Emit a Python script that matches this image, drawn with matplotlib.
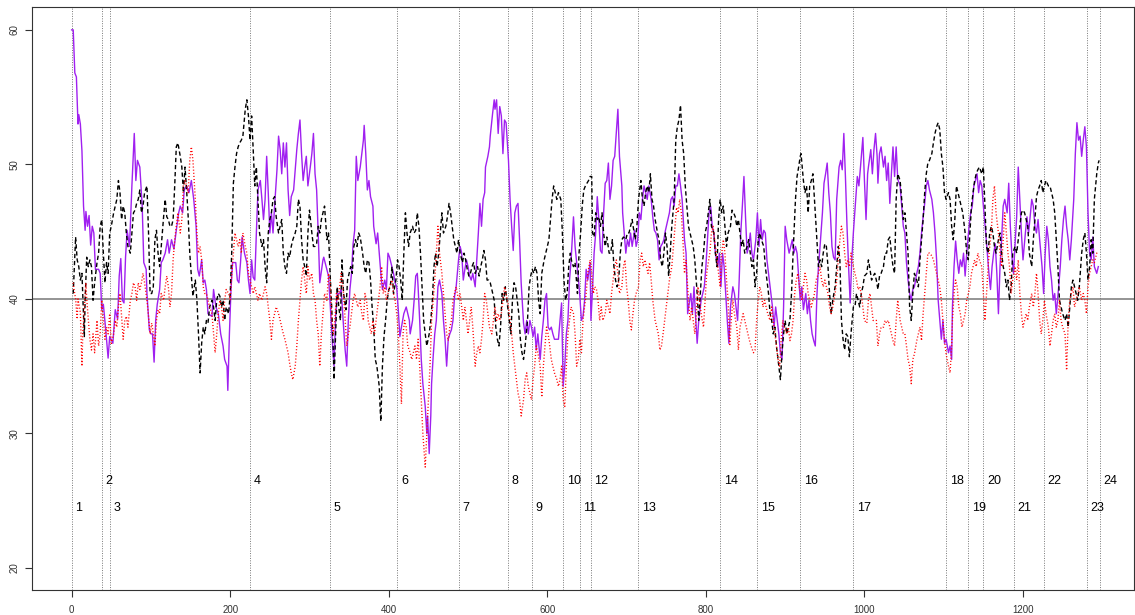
import matplotlib
matplotlib.use('Agg')
import matplotlib.pyplot as plt

# solid purple series (x, value)
purple_pts = [
    (0,60),(2,60),(4,56.8),(6,56.5),(8,53),(9,53.7),(11,53),(13,51),(15,46.9),(17,45.1),(18,46.5),
    (20,45.4),(22,46.2),(24,44),(26,45.4),(28,44.9),(30,42.2),(34,42.2),(36,41.9),(38,39.2),(40,39.6),
    (43,37.7),(46,35.6),(48,37.2),(52,36.7),(55,39.2),(58,38.5),(60,41.7),(62,43),(64,39.9),(66,39.7),
    (68,43.1),(70,45.1),(73,43.9),(76,48.4),(79,52.3),(81,48.8),(83,50.3),(86,49.8),(89,46.9),(91,42.7),
    (94,42.2),(95,40.4),(98,37.7),(100,37.4),(102,37.4),(104,35.3),(106,38.4),(108,39.6),(111,40.7),
    (113,42.7),(115,42.9),(118,43.4),(121,44.4),(123,43.4),(126,44.4),(129,43.7),(132,45.1),(135,46.4),
    (137,46.9),(140,46.4),(142,48.1),(145,48.4),(148,47.9),(151,48.8),(154,47.4),(157,45.4),(159,42.2),
    (161,41.7),(164,42.9),(166,41.2),(168,41.4),(170,40.7),(172,38.9),(177,38.7),(179,40.7),(182,39.4),
    (185,38.9),(188,37.4),(191,36.5),(193,35.5),(196,35),(197,33.2),(199,37.4),(201,40.7),(203,42.7),
    (207,42.7),(209,41.4),(211,41.2),(213,42.7),(215,44.6),(218,43.4),(221,42.7),(223,41.4),(225,40.4),
    (227,42.9),(229,41.6),(231,41.4),(233,44.9),(235,48.1),(238,48.8),(240,47.4),(242,45.9),(244,47.4),
    (246,50.6),(248,47.9),(250,44.9),(252,46.4),(254,44.9),(256,46.9),(259,49.6),(261,52.1),(263,51.1),
    (265,49.3),(267,51.6),(269,49.8),(271,51.6),(273,48.1),(275,46.2),(277,47.6),(280,48.1),(282,49.6),
    (284,51.1),(286,52.3),(288,53.3),(290,50.8),(292,48.8),(294,49.8),(296,50.6),(298,48.4),(301,49.8),
    (303,50.8),(305,52.3),(307,49.3),(309,48.1),(311,44.9),(313,41.2),
    (317,42.9),(318,43.1),(321,42.4),(324,41.7),(327,38.7),(329,36.7),(331,35),(333,38.7),(335,40.4),
    (338,40.4),(340,40.7),(343,37.9),(345,36.2),(347,35),(349,38.4),(351,40.7),(353,41.9),(355,44.1),
    (357,45.1),(359,50.6),(361,48.8),(364,49.8),(366,50.8),(368,51.8),(369,52.9),(371,50.8),(373,48.1),
    (375,48.8),(377,47.6),(380,46.9),(381,45.4),(384,44.1),(386,44.9),(388,43.4),(390,41.9),(392,40.7),
    (395,41.4),(397,40.7),(399,43.4),(401,43.1),(404,42.4),(406,41.9),(408,41.2),(410,40.9),(412,39.2),
    (414,37.2),(416,37.9),(419,38.9),(422,39.4),(424,38.9),(426,38.4),(427,37.4),(430,38.4),(432,39.9),
    (434,41.7),(436,41.9),(437,40.9),(439,38.4),(441,35.5),(443,33.7),(446,32),(448,30),(449,31.3),
    (451,28.5),(453,31.3),(454,33.7),(456,35.7),(458,37.4),(460,38.4),(462,40.9),(464,41.4),(467,40.4),
    (469,38.4),(471,37),(473,35),(475,37),(477,37.4),(479,37.7),(481,38.4),(483,40.2),(485,40.9),
    (488,42.9),(490,43.9),(492,43.4),(494,41.4),(496,42.2),(498,42.9),(500,42.4),(502,41.7),(504,41.4),
    (506,41.9),(509,40.9),(511,42.9),(513,44.9),(515,47.1),(517,45.4),(519,47.4),(521,47.9),(522,49.8),
    (525,50.6),(527,51.3),(528,52.1),(531,53.8),(533,54.8),(534,54.1),(536,54.8),(538,52.3),(540,54.3),
    (542,53.6),(544,50.8),(546,53.3),(548,53.1),(551,50.3),(553,47.4),(555,45.4),(557,43.6),(559,46.4),
    (561,46.9),(563,47.1),(565,44.4),(567,41.2),(570,38.2),(572,37.4),(574,38.4),(576,37.4),(578,38.4),
    (580,37.9),(582,37.2),(584,37.9),(586,36.2),(588,37.4),(591,35.5),(593,37.2),(595,38.4),(597,39.9),
    (599,40.4),(601,37.9),(603,37.7),(605,37.9),(607,37.4),(609,37),(612,37),(614,37),(616,38.4),
    (618,39.7),(620,33.5),(622,35),(624,37.4),(626,38.4),(628,41.4),(630,42.9),(633,46.1),(635,43.9),
    (637,42.7),(639,41.7),(641,40.2),(643,38.4),(645,38.7),(647,39.9),(649,42.2),(651,41.4),(654,42.7),
    (655,38.4),(657,40.7),(659,43.4),(661,44.9),(663,47.6),(665,45.9),(667,43.6),(669,43.4),(671,46.4),
    (673,48.6),(675,48.8),(677,50.1),(679,47.4),(681,48.4),(683,50.3),(685,50.6),(687,52.3),(689,54.1),
    (691,50.6),(694,48.4),(695,46.4),(697,44.9),(699,43.4),(701,44.4),(703,43.9),(705,44.9),(707,43.9),
    (710,45.1),(712,43.9),(714,44.4),(716,46.4),(718,45.9),(720,47.4),(722,48.4),(724,47.9),(726,47.4),
    (728,48.4),(731,47.4),(733,46.1),(735,45.1),(737,44.9),(739,44.4),(741,42.9),(743,43.9),(745,44.1),
    (747,44.4),(749,45.1),(752,45.9),(754,46.4),(756,47.4),(758,47.6),(760,46.9),(762,48.4),(764,48.4),
    (766,49.3),(768,48.4),(770,47.4),(773,44.4),(775,43.4),(777,38.9),(779,39.7),(781,40.4),(783,38.9),
    (785,40.9),(787,38.7),(789,36.7),(791,38.4),(794,39.9),(796,40.4),(798,40.9),(800,42.4),(802,44.4),
    (804,46.4),(806,46.9),(808,45.4),(810,44.9),(812,43.4),(815,42.4),(817,43.4),(819,40.9),(821,43.4),
    (823,42.4),(825,40.4),(827,38.4),(829,36.7),(831,39.4),(834,40.9),(836,40.4),(838,39.4),(840,38.4),
    (842,41.4),(844,44.9),(846,46.9),(848,49.1),(850,46.1),(852,43.4),(854,43.9),(856,44.9),(858,43.4),
    (860,42.9),(863,44.4),(865,46.4),(867,43.9),(869,45.9),(871,44.4),(873,45.1),(875,44.9),(877,42.9),
    (879,41.9),(881,40.9),(884,39.4),(886,37.9),(888,39.4),(890,38.4),(892,37.4),(894,36),(896,35.5),
    (898,39.4),(900,45.4),(902,44.4),(905,43.4),(907,43.9),(909,44.4),(911,43.4),(913,43.9),(915,43.4),
    (917,41.7),(919,39.9),(921,40.9),(923,39.2),(926,40.4),(928,38.9),(930,39.9),(932,38.4),(934,37.4),
    (936,36.9),(938,36.5),(940,40.2),(942,42.4),(944,43.9),(947,46.4),(949,48.6),(951,49.3),(953,50.1),
    (955,47.9),(957,46.4),(959,43.9),(961,43.1),(963,42.9),(965,47.4),(968,49.8),(970,50.3),(972,49.6),
    (974,52.3),(976,49.1),(978,45.4),(980,42.4),(982,39.7),(984,42.9),(986,44.9),(989,47.4),(991,49.1),
    (993,48.4),(995,49.8),(998,52),(1000,48.8),(1002,45.9),(1004,49.3),(1005,49.8),(1008,51.1),(1010,49.3),
    (1012,51.1),(1014,52.3),(1016,50.6),(1017,48.6),(1019,50.8),(1021,51.3),(1024,49.8),(1026,50.6),
    (1028,48.8),(1030,50.1),(1032,47.1),(1034,49.3),(1036,51.3),(1038,49.1),(1040,51.3),(1042,48.9),
    (1045,48.4),(1047,46.9),(1049,45.4),(1051,44.9),(1053,42.7),(1055,41.4),(1057,40.4),(1059,39.9),
    (1061,40.7),(1063,40.9),(1066,41.9),(1068,42.4),(1070,43.4),(1072,44.9),(1074,46.1),(1076,47.1),
    (1078,48.4),(1080,48.8),(1082,48.1),(1085,47.4),(1087,46.4),(1089,44.9),(1091,42.9),(1093,39.9),
    (1095,38.4),(1097,37),(1099,38.4),(1101,36.7),(1103,37),(1106,36),(1108,36.5),(1110,35.5),(1111,39.4),
    (1113,42.4),(1115,44.3),(1117,42.9),(1119,41.9),(1121,42.9),(1123,42.4),(1125,43.4),(1127,41.7),
    (1129,43.4),(1132,45.4),(1134,46.4),(1136,46.9),(1138,48.4),(1140,48.8),(1142,49.3),(1144,47.9),
    (1146,48.8),(1148,48.4),(1150,46.9),(1153,44.9),(1155,43.4),(1157,41.9),(1159,40.7),(1161,42.4),
    (1163,43.4),(1165,44.1),(1167,41.9),(1169,38.9),(1171,42.4),(1173,44.4),(1175,46.9),(1177,47.4),
    (1180,46.4),(1182,48.6),(1184,45.4),(1186,43.2),(1188,41.9),(1190,44.1),(1192,46.1),(1194,49.8),
    (1196,47.4),(1198,44.9),(1200,42.9),(1203,44.9),(1205,46.1),(1207,44.9),(1209,46.1),(1211,47.4),
    (1213,46.9),(1215,45.4),(1217,44.9),(1219,45.9),(1221,44.4),(1224,42.4),(1226,40.4),(1228,43.4),
    (1230,45.4),(1232,44.4),(1234,42.4),(1236,41.4),(1238,39.9),(1240,40.4),(1242,38.9),(1245,40.9),
    (1247,42.4),(1249,44.4),(1251,45.9),(1253,46.9),(1255,45.4),(1257,44.4),(1259,42.9),(1261,44.4),
    (1264,47.4),(1266,50.8),(1268,53.1),(1270,51.8),(1272,52.1),(1274,50.6),(1276,51.8),(1278,52.8),
    (1280,51.3),(1282,46.4),(1284,43.4),(1286,42.9),(1288,44.6),(1290,42.4),(1293,41.9),(1295,42.4),
]

# dashed black series
black_pts = [
    (2,40.4),(5,44.6),(7,42.9),(9,42.4),(11,41.4),(13,41.9),(14,40.4),(16,37.2),(17,39.9),(19,43.1),
    (21,42.4),(23,42.9),(25,42.4),(27,39.9),(29,41.2),(32,42.7),(34,43.4),(36,45.4),(38,45.9),(40,43.4),
    (42,41.2),(44,42.7),(46,41.9),(48,44.9),(50,45.4),(53,46.4),(55,46.9),(57,47.4),(59,48.8),(61,47.9),
    (63,45.9),(65,46.9),(67,46.4),(69,44.9),(71,43.9),(74,43.4),(76,44.9),(78,46.4),(80,46.6),(82,47.1),
    (84,47.4),(86,48.1),(88,46.4),(90,46.9),(92,47.9),(95,48.4),(97,44.9),(99,40.4),(101,40.4),(103,40.9),
    (105,44.4),(107,45.1),(109,43.4),(111,42.4),(113,43.9),(116,46.1),(118,47.4),(120,46.1),(122,45.9),
    (124,45.4),(126,45.4),(128,45.9),(130,48.4),(132,51.3),(134,51.6),(137,50.6),(139,49.8),(141,47.9),
    (143,49.8),(145,48.1),(147,46.1),(149,43.4),(151,41.7),(153,40.2),(156,41.4),(158,39.9),(160,37.4),
    (162,34.5),(164,36.7),(166,37.9),(168,37.4),(170,38.4),(172,38.2),(174,39.4),(177,39.9),(179,39.4),
    (181,38.4),(183,39.9),(185,40.4),(187,40.2),(189,39.4),(191,39.9),(193,38.4),(195,39.4),(198,38.9),
    (200,40.4),(202,43.6),(204,48.6),(206,49.8),(208,50.8),(210,51.3),(212,51.6),(214,51.8),(216,52.1),
    (219,54.1),(221,54.8),(223,53.6),(225,51.8),(227,53.6),(229,51.1),(231,48.4),(233,49.8),(235,47.4),
    (237,44.9),(240,43.9),(242,44.4),(244,42.4),(246,41.2),(248,44.9),(250,45.9),(252,46.4),(254,47.4),
    (256,47.6),(258,46.1),(261,44.9),(263,45.4),(265,45.9),(267,43.4),(269,42.4),(271,41.9),(273,43.4),
    (275,43.1),(277,43.9),(279,44.4),(282,44.9),(284,45.4),(286,47.4),(288,46.9),(290,44.4),(292,42.9),
    (294,42.4),(296,41.7),(298,44.9),(300,46.6),(303,44.9),(305,43.9),(307,43.9),(309,44.1),(311,45.4),
    (313,44.9),(315,45.9),(317,46.4),(319,46.9),(322,44.4),(324,44.9),(326,41.9),(328,39.4),(330,36.2),
    (331,34),(333,37.4),(335,40.9),(337,39.4),(339,38.4),(341,42.9),(343,40.4),(346,39.2),(348,41.4),
    (350,41.9),(352,42.4),(354,41.9),(356,43.9),(358,44.4),(360,43.9),(362,44.9),(364,44.6),(367,43.4),
    (369,42.4),(371,41.9),(373,42.9),(375,42.7),(377,41.4),(379,39.4),(381,37.9),(383,35.5),(385,35),
    (388,33.5),(389,32),(390,30.9),(392,35),(394,37.2),(396,38.4),(398,39.9),(400,40.7),(402,40.9),
    (404,42.4),(406,40.4),(409,41.4),(411,42.9),(413,42.4),(415,41.4),(417,39.9),(419,43.4),(421,46.4),
    (423,44.9),(425,43.9),(427,44.9),(430,45.4),(432,44.9),(434,45.1),(436,46.4),(438,45.4),(440,43.4),
    (442,40.9),(444,38.4),(446,37.4),(448,36.5),(451,37.4),(453,38.4),(455,39.9),(457,42.4),(459,43.4),
    (461,42.4),(463,43.4),(465,44.9),(467,46.4),(469,44.9),(472,45.4),(474,46.1),(476,47.1),(478,46.4),
    (480,45.4),(482,44.4),(484,43.9),(486,43.4),(488,44.4),(490,43.4),(493,42.7),(495,43.4),(497,42.9),
    (499,42.2),(501,41.7),(503,41.9),(505,42.4),(507,42.7),(509,41.9),(512,42.4),(514,41.7),(516,42.4),
    (518,42.9),(520,43.6),(522,42.9),(524,41.4),(526,41.4),(528,41.2),(530,40.7),(533,39.9),(535,37.9),
    (537,37),(539,36.5),(541,37.9),(543,40.4),(545,39.9),(547,40.9),(549,39.9),(551,38.9),(554,37.4),
    (556,39.9),(558,41.2),(560,40.9),(562,39.9),(564,38.9),(566,37),(568,36),(570,35.5),(572,36.5),
    (575,38.4),(577,40.9),(579,41.7),(581,42.2),(583,41.9),(585,42.4),(587,41.9),(589,39.9),(591,38.9),
    (593,41.9),(596,42.9),(598,43.4),(600,43.9),(602,44.4),(604,45.9),(606,47.4),(608,48.4),(610,47.9),
    (612,47.4),(614,47.9),(617,47.4),(619,44.9),(621,41.4),(623,39.9),(625,40.4),(627,42.4),(629,43.4),
    (631,42.7),(633,42.4),(635,42.7),(638,40.4),(640,43.4),(642,44.9),(644,46.9),(646,48.1),(648,48.4),
    (650,48.6),(652,48.8),(654,49.1),(656,49.1),(657,44.9),(659,44.6),(661,46.4),(663,45.9),(665,46.1),
    (667,45.4),(669,46.4),(671,44.9),(673,43.9),(675,44.6),(678,43.4),(680,43.4),(682,44.4),(684,42.4),
    (686,41.4),(688,40.9),(690,41.4),(692,43.4),(694,44.4),(696,44.6),(699,44.4),(701,44.9),(703,44.9),
    (705,45.4),(707,45.9),(709,45.1),(711,44.4),(713,45.4),(715,47.4),(718,48.8),(720,47.4),(722,46.9),
    (724,47.9),(726,48.4),(728,47.9),(730,49.3),(732,47.4),(734,46.9),(736,45.9),(739,44.9),(741,44.4),
    (743,42.9),(745,42.4),(747,43.4),(749,44.9),(751,43.9),(753,41.7),(755,43.4),(757,45.4),(760,47.4),
    (762,51.8),(764,52.8),(766,53.3),(768,54.4),(770,51.8),(772,50.8),(774,48.4),(776,46.9),(778,45.4),
    (780,44.9),(782,44.4),(784,43.9),(786,42.9),(789,40.4),(791,38.4),(793,40.4),(795,42.4),(797,43.4),
    (799,44.9),(801,45.4),(803,46.4),(805,47.4),(807,45.4),(810,44.9),(812,43.4),(814,42.4),(816,45.9),
    (818,47.4),(820,46.4),(822,46.9),(824,45.4),(826,43.9),(828,44.9),(831,45.4),(833,46.6),(835,46.4),
    (837,46.1),(839,45.4),(841,45.9),(843,44.9),(845,43.9),(847,44.4),(849,43.4),(852,43.9),(854,44.4),
    (856,43.4),(858,42.4),(860,42.9),(862,40.9),(864,41.9),(866,44.4),(868,44.9),(870,44.4),(873,43.9),
    (875,42.4),(877,41.4),(879,40.4),(881,38.9),(883,38.4),(885,37.4),(887,37.9),(889,36.5),(892,35),
    (894,34),(896,36),(898,37.4),(900,38.4),(902,37.4),(904,37.9),(906,38.4),(908,40.4),(910,43.4),
    (913,47.4),(915,49.1),(917,49.8),(919,50.6),(920,50.8),(923,48.8),(925,47.9),(927,48.4),(929,46.4),
    (931,48.4),(933,48.8),(935,49.3),(937,47.4),(939,45.4),(942,42.4),(944,42.9),(946,42.4),(948,43.4),
    (950,44.1),(952,43.9),(954,42.4),(956,40.4),(958,38.9),(960,39.9),(963,40.9),(965,42.4),(967,43.9),
    (969,42.9),(971,38.4),(973,37),(975,36.2),(977,37.4),(979,37.2),(981,35.7),(983,37.4),(986,39.4),
    (988,39.4),(990,40.4),(992,39.9),(994,39.4),(996,40.4),(998,40.9),(1000,41.7),(1003,41.9),(1005,42.9),
    (1007,42.2),(1009,41.4),(1011,41.7),(1013,41.9),(1015,41.4),(1017,40.7),(1019,41.7),(1021,41.9),
    (1024,42.4),(1026,43.4),(1028,43.4),(1030,44.4),(1032,44.6),(1034,43.4),(1036,42.4),(1038,41.9),
    (1040,47.4),(1042,49.3),(1045,48.8),(1047,47.4),(1049,45.9),(1051,46.4),(1053,44.9),(1055,43.4),
    (1057,39.4),(1059,38.4),(1061,40.4),(1063,41.9),(1066,41.4),(1068,40.9),(1070,42.9),(1072,44.4),
    (1074,45.9),(1076,47.9),(1078,49.3),(1080,50.1),(1082,50.3),(1085,50.8),(1087,51.6),(1089,52.3),
    (1091,52.8),(1093,53.1),(1095,52.6),(1097,50.8),(1099,49.8),(1101,47.9),(1103,47.4),(1106,47.9),
    (1108,47.4),(1110,45.4),(1112,44.4),(1114,45.9),(1116,48.4),(1118,47.9),(1120,47.4),(1122,46.9),
    (1124,46.4),(1127,44.9),(1129,43.4),(1131,42.9),(1133,44.9),(1135,46.9),(1137,47.9),(1139,48.8),
    (1141,49.3),(1143,49.6),(1145,49.8),(1148,49.3),(1150,49.8),(1152,46.9),(1154,43.9),(1156,43.4),
    (1158,44.9),(1160,45.4),(1162,44.9),(1164,43.9),(1166,43.4),(1169,44.4),(1171,44.9),(1173,43.4),
    (1175,42.4),(1177,41.9),(1179,40.9),(1181,41.4),(1183,39.9),(1185,40.9),(1187,43.4),(1190,43.9),
    (1192,43.4),(1194,44.4),(1196,45.4),(1198,46.4),(1200,46.6),(1202,46.4),(1204,45.9),(1206,45.4),
    (1208,43.4),(1211,42.4),(1213,44.4),(1215,45.9),(1217,47.6),(1219,48.1),(1221,48.4),(1223,48.8),
    (1225,47.9),(1227,48.4),(1229,48.8),(1232,48.4),(1234,48.4),(1236,47.9),(1238,47.4),(1240,46.4),
    (1242,44.4),(1244,42.4),(1246,39.9),(1248,39.4),(1250,38.9),(1253,38.4),(1255,38.9),(1257,37.9),
    (1259,39.4),(1261,40.9),(1263,41.4),(1265,40.9),(1267,40.4),(1269,39.9),(1271,40.9),(1274,43.4),
    (1276,44.4),(1278,44.9),(1280,43.4),(1282,41.4),(1284,42.4),(1286,44.4),(1288,43.4),(1290,47.4),
    (1293,49.3),(1295,50.1),(1296,50.3),
]

# dotted red series
red_pts = [
    (2,41.2),(3,40.7),(5,40),(7,38.5),(8,40),(11,39),(13,35),(14,37.4),(16,39.4),(18,41.2),(19,40),
    (21,38.5),(23,37),(25,36.2),(27,37.4),(29,36),(32,38.4),(34,36.5),(36,37.4),(38,39.9),(40,38.4),
    (42,37),(44,37.9),(46,37.4),(48,38.9),(50,36.7),(53,37.4),(55,38.4),(57,37.9),(59,39.4),(61,40.4),
    (63,38.7),(65,37),(67,38.4),(69,38.7),(71,37.9),(74,39.9),(76,40.4),(78,41.2),(80,40.9),(82,39.9),
    (84,41.2),(86,40.7),(88,41.2),(90,41.9),(92,41.2),(95,39.9),(97,38.7),(99,37.4),(101,38.2),(103,37.4),
    (105,36.5),(107,38.4),(109,39.2),(111,38.9),(113,40.4),(116,39.9),(118,40.9),(120,41.7),(122,40.9),
    (124,39.4),(126,40.4),(128,42.9),(130,44.4),(132,45.4),(134,46.4),(137,44.9),(139,45.9),(141,48.4),
    (143,48.8),(145,48.4),(147,47.9),(149,50.3),(151,51.3),(153,50.3),(156,47.4),(158,44.9),(160,43.4),
    (162,43.9),(164,42.9),(166,40.9),(168,40.4),(170,40.4),(172,39.9),(174,39.4),(177,38.9),(179,37.4),
    (181,36),(183,37.4),(185,38.9),(187,39.9),(189,39.4),(191,38.4),(193,39.9),(195,40.7),(198,40.4),
    (200,39.9),(202,41.9),(204,43.4),(206,44.9),(208,44.4),(210,43.9),(212,44.4),(214,43.4),(216,44.9),
    (219,43.9),(221,43.4),(223,41.9),(225,41.4),(227,40.9),(229,40.4),(231,40.9),(233,40.4),(235,39.9),
    (237,40.4),(240,39.9),(242,40.4),(244,40.9),(246,40.4),(248,39.4),(250,38.4),(252,37),(254,38.4),
    (256,38.9),(258,39.4),(261,38.9),(263,38.4),(265,37.9),(267,37.4),(269,37),(271,36.5),(273,36),
    (275,35.2),(277,34.5),(279,34),(282,35),(284,36.5),(286,38.4),(288,39.9),(290,41.4),(292,42.4),
    (294,41.4),(296,40.4),(298,42.4),(300,41.4),(303,41.9),(305,40.4),(307,39.9),(309,38.4),(311,37.4),
    (313,35),(315,37.4),(317,38.9),(319,40.4),(322,39.9),(324,41.9),(326,41.4),(328,38.7),(330,37.4),
    (332,38.4),(334,40.4),(336,39.9),(338,40.9),(340,41.9),(343,40.4),(345,38.4),(347,36.5),(349,37.4),
    (351,37.9),(353,38.9),(355,39.9),(357,40.4),(359,39.9),(361,39.4),(364,39.9),(366,38.9),(368,38.4),
    (370,40.4),(372,39.9),(374,38.4),(376,37.9),(378,37.4),(380,38.4),(382,37.4),(385,38.9),(387,39.9),
    (389,40.9),(391,42.4),(393,40.4),(395,40.9),(397,39.9),(399,40.4),(401,40.9),(404,41.4),(406,40.4),
    (408,39.9),(410,38.9),(412,37.4),(414,35),(416,32.2),(418,37.4),(420,38.4),(422,37.9),(424,36.5),
    (427,36),(429,35.5),(431,36),(433,36.5),(435,35.5),(437,37),(439,35),(441,32.5),(443,30),(446,27.5),
    (448,30),(450,32.5),(452,35),(454,38.4),(456,39.9),(458,41.4),(460,43.4),(462,45.4),(464,43.4),
    (467,41.9),(469,40.4),(471,38.9),(473,37.4),(475,36.9),(477,37.9),(479,38.4),(481,39.9),(483,40.4),
    (485,40.9),(488,39.9),(490,40.4),(492,39.4),(494,38.4),(496,39.4),(498,38.4),(500,37.4),(502,38.4),
    (504,39.4),(506,37.9),(509,35),(511,36),(513,36.5),(515,36),(517,37),(519,38.4),(521,40.4),(523,39.9),
    (525,38.9),(527,37.9),(530,37.4),(532,38.4),(534,39.4),(536,38.4),(538,38.9),(540,38.4),(542,38.9),
    (544,39.9),(546,40.9),(548,40.4),(551,39.4),(553,38.4),(555,37.4),(557,36),(559,35),(561,34),(563,33),
    (565,32.5),(567,31.3),(570,32.5),(572,34),(574,34.5),(576,33.5),(578,33),(580,32.5),(582,34),(584,35),
    (586,36.5),(588,36),(591,35),(593,32.7),(595,35),(597,36.5),(599,37.9),(601,37.4),(603,36.5),
    (605,35.5),(607,35),(609,34.5),(612,34),(614,33.5),(616,34),(618,35),(620,32.5),(622,32),(624,35),
    (626,37.4),(628,38.4),(630,39.4),(633,38.9),(635,37.4),(637,35),(639,35.5),(641,37),(643,36),
    (645,38.4),(647,39.4),(649,40.4),(651,41.9),(654,42.9),(656,41.9),(658,40.4),(660,40.9),(662,40.7),
    (664,39.9),(666,38.4),(668,39.4),(670,38.4),(673,38.9),(675,39.9),(677,39.4),(679,38.9),(681,40.4),
    (683,41.4),(685,42.4),(687,42.9),(689,41.9),(691,40.4),(694,40.9),(696,42.4),(698,42.9),(700,40.9),
    (702,39.9),(704,38.4),(706,37.7),(708,38.9),(710,39.9),(712,40.4),(715,40.9),(717,42.9),(719,43.4),
    (721,42.4),(723,42.9),(725,42.4),(727,41.9),(729,42.7),(731,41.4),(733,39.9),(736,38.4),(738,37.9),
    (740,37.4),(742,36.2),(744,36.5),(746,37.4),(748,38.4),(750,39.4),(752,40.4),(754,41.4),(757,42.4),
    (759,43.9),(761,45.4),(763,46.8),(765,46.4),(767,47.4),(769,46.4),(771,44.4),(773,41.9),(775,42.9),
    (778,39.9),(780,38.4),(782,39.4),(784,38.4),(786,37.4),(788,38.9),(790,40.9),(792,39.9),(794,38.9),
    (797,37.9),(799,39.9),(801,41.9),(803,42.7),(805,43.4),(807,44.9),(809,45.4),(811,44.4),(813,43.4),
    (815,42.4),(818,40.9),(820,43.4),(822,44.4),(824,43.4),(826,41.4),(828,39.9),(830,36.5),(832,38.4),
    (834,39.9),(836,38.9),(839,37.9),(841,36.2),(843,37.9),(845,38.4),(847,38.9),(849,38.4),(851,37.9),
    (853,37.4),(855,36.9),(857,36.5),(860,36),(862,36.2),(864,38.4),(866,39.9),(868,40.9),(870,40.4),
    (872,39.4),(874,39.9),(876,39.4),(878,38.9),(881,38.4),(883,39.4),(885,38.4),(887,37.4),(889,36.5),
    (891,35.5),(893,35),(895,37),(897,38.4),(899,37.9),(902,37.4),(904,37.9),(906,36.9),(908,37.4),
    (910,38.4),(912,40.4),(914,41.4),(916,41.9),(918,40.9),(921,39.9),(923,40.9),(925,41.9),(927,41.4),
    (929,40.4),(931,39.9),(933,39.4),(935,39.9),(937,40.4),(939,41.4),(942,41.9),(944,42.4),(946,41.4),
    (948,40.9),(950,41.4),(952,40.9),(954,40.4),(956,39.4),(958,38.9),(960,39.4),(963,40.4),(965,41.4),
    (967,42.9),(969,44.4),(971,45.4),(973,44.9),(975,43.4),(977,42.4),(979,42.9),(981,42.4),(983,43.4),
    (986,42.4),(988,41.9),(990,41.4),(992,40.7),(994,40.9),(996,40.4),(998,39.4),(1000,38.4),(1003,38.2),
    (1005,39.9),(1007,40.4),(1009,39.4),(1011,38.4),(1013,38.4),(1015,38.4),(1017,36.5),(1019,37.4),
    (1021,37.9),(1024,37.9),(1026,38.4),(1028,38.2),(1030,38.4),(1032,37.9),(1034,37.4),(1036,36.9),
    (1038,36.5),(1040,38.4),(1042,39.9),(1045,38.4),(1047,37.9),(1049,37.4),(1051,37.4),(1053,36.5),
    (1055,35.5),(1057,35),(1059,33.7),(1061,35.5),(1063,35.9),(1066,36.9),(1068,37.4),(1070,37.9),
    (1072,36.9),(1074,38.9),(1076,40.4),(1078,41.9),(1080,43.4),(1082,43.4),(1085,43.2),(1087,42.9),
    (1089,42.4),(1091,41.9),(1093,41.4),(1095,40.9),(1097,39.9),(1099,38.4),(1101,36.9),(1103,35.9),
    (1106,35),(1108,34.5),(1110,36.5),(1111,38.4),(1113,40.4),(1115,41.4),(1117,40.9),(1119,39.4),
    (1121,38.9),(1123,37.9),(1125,38.4),(1127,38.9),(1129,39.9),(1131,40.4),(1133,40.9),(1135,41.9),
    (1137,42.4),(1139,42.9),(1141,42.4),(1143,43.4),(1145,42.9),(1148,42.4),(1150,40.4),(1152,38.4),
    (1154,40.4),(1156,42.4),(1158,43.9),(1160,44.9),(1162,47.4),(1164,48.4),(1166,46.4),(1169,44.9),
    (1171,43.4),(1173,42.4),(1175,44.4),(1177,46.4),(1179,44.9),(1181,43.4),(1183,42.4),(1185,40.4),
    (1187,41.4),(1190,42.4),(1192,41.4),(1194,42.9),(1196,40.4),(1198,38.9),(1200,37.9),(1202,38.4),
    (1204,38.9),(1206,38.4),(1208,39.4),(1211,40.4),(1213,39.4),(1215,40.4),(1217,41.9),(1219,40.4),
    (1221,38.4),(1223,37.4),(1225,38.4),(1227,39.9),(1229,38.9),(1232,37.9),(1234,36.5),(1236,37.4),
    (1238,38.4),(1240,38.9),(1242,37.9),(1244,38.4),(1246,39.9),(1248,38.4),(1250,37.9),(1253,37.4),
    (1255,34.7),(1257,38.4),(1259,39.9),(1261,40.4),(1263,40.9),(1265,39.4),(1267,39.9),(1269,40.4),
    (1271,40.9),(1274,39.9),(1276,40.4),(1278,39.9),(1280,38.9),(1282,40.9),(1284,41.9),(1286,42.4),
    (1288,42.9),(1290,42.7),(1293,43.4),(1295,43.4),
]

# segment boundaries and their numbers
breaks = [0, 38, 48, 225, 326, 411, 488, 550, 581, 620, 641, 655,
          715, 818, 865, 919, 986, 1103, 1131, 1150, 1189, 1226, 1281, 1297]
break_labels = [str(i + 1) for i in range(len(breaks))]
label_levels = [24.45, 26.5]
baseline = 40

x_ticks = [0, 200, 400, 600, 800, 1000, 1200]
y_ticks = [20, 30, 40, 50, 60]

plt.rcParams['font.family'] = ['Liberation Sans', 'DejaVu Sans']

fig = plt.figure(figsize=(11.35, 6.15), dpi=100)
ax = fig.add_axes([32 / 1135, 1 - 590 / 615, 1102 / 1135, 583 / 615])

px, py = zip(*purple_pts)
bx, by = zip(*black_pts)
rx, ry = zip(*red_pts)

ax.plot(px, py, color='#A020F0', lw=1.0, zorder=3)
ax.plot(bx, by, color='black', lw=1.0, dashes=(3.1, 2.0), zorder=4)
ax.plot(rx, ry, color='red', lw=1.0, dashes=(0.75, 1.5), zorder=5)

ax.axhline(baseline, color='#777777', lw=1.1, zorder=2)
for i, b in enumerate(breaks):
    ax.axvline(b, color='#777777', lw=0.7, linestyle=(0, (1, 1.5)), zorder=1)
    ax.annotate(break_labels[i], (b, label_levels[i % 2]), xytext=(2.5, 0),
                textcoords='offset points', ha='left', va='center', fontsize=9)

ax.set_xlim(-50, 1340)
ax.set_ylim(18.36, 61.7)
ax.set_xticks(x_ticks)
ax.set_yticks(y_ticks)
ax.tick_params(axis='both', labelsize=7, length=4.8, width=0.8, colors='#333333')
ax.tick_params(axis='x', pad=6)
ax.tick_params(axis='y', pad=4)
for lab in ax.get_yticklabels():
    lab.set_rotation(90)
    lab.set_va('center')
for s in ax.spines.values():
    s.set_color('#333333')
    s.set_linewidth(0.8)

fig.savefig('out.png', dpi=100)
